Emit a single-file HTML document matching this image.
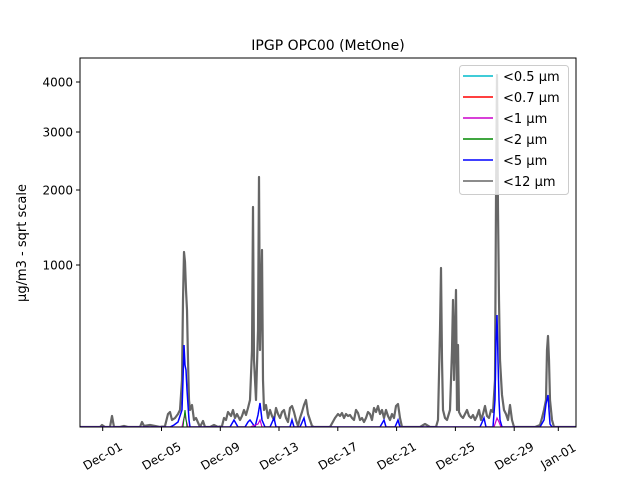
<!DOCTYPE html>
<html><head><meta charset="utf-8"><style>
body{margin:0;background:#fff;}
svg{display:block;font-family:"DejaVu Sans","Liberation Sans",sans-serif;}
</style></head><body>
<svg width="640" height="480" viewBox="0 0 640 480">
<rect width="640" height="480" fill="#fff"/>
<text x="328" y="50" font-size="14" text-anchor="middle">IPGP OPC00 (MetOne)</text>
<clipPath id="c"><rect x="80" y="58" width="496" height="369"/></clipPath>
<g clip-path="url(#c)">
<polyline fill="none" stroke="#666" stroke-width="2.2" stroke-linejoin="round" points="
80,427 100,427 102,425 105,427 110,427 112,416 114,427 120,427 124,426 128,427 140,427 142,422 144,426 150,425 155,426 160,427 165,426 168,414 170,412 172,420 175,418 178,414 180,410 182,380 183,300 184,252 185,262 186,290 187,310 188,360 189,400 190,410 192,405 194,420 196,418 200,427 203,421 205,427 210,427 214,425 218,427 222,426 224,418 226,420 228,412 231,416 233,410 235,418 237,414 240,420 242,416 244,410 246,415 248,408 250,400 252,350 253,207 254,360 256,400 258,330 259,177 260,350 261,300 262,250 263,380 264,410 266,405 268,418 270,410 272,416 274,420 276,408 278,414 280,418 282,412 284,410 286,418 288,422 290,408 292,406 294,412 296,420 298,426 300,418 302,412 304,405 306,400 308,414 310,420 312,426 314,427 320,427 330,427 335,418 338,414 340,416 342,413 344,418 346,414 348,416 350,415 352,418 354,420 356,410 358,413 360,420 362,418 364,422 366,418 368,412 370,414 372,420 374,408 376,412 378,406 380,414 382,410 384,418 386,410 388,416 390,420 392,414 394,418 396,406 398,404 400,418 402,427 410,427 420,427 425,424 430,427 436,427 438,420 440,330 441,268 442,360 443,410 445,418 447,420 450,410 452,350 453,300 454,380 456,290 457,410 458,345 459,412 461,416 463,418 465,414 467,410 469,416 471,418 473,415 475,420 477,416 479,410 481,420 483,414 485,406 487,416 489,418 491,410 493,412 495,380 496,200 497,75 498,210 499,300 500,360 502,395 504,410 506,414 508,420 510,405 512,420 514,427 520,427 530,427 535,427 540,425 542,418 544,410 546,400 547,350 548,336 549,360 550,400 552,420 554,427 576,427"/>
<polyline fill="none" stroke="#00f" stroke-width="1.5" points="
80,427 170,427 174,425 178,422 182,410 183,380 184,345 185,365 186,370 187,390 188,405 189,420 190,427 230,427 234,420 238,427 245,427 248,422 250,420 255,427 258,415 260,403 262,420 265,427 270,427 274,418 276,427 290,427 292,420 294,427 300,427 304,418 306,427 380,427 384,420 386,427 395,427 398,420 400,427 480,427 484,418 486,427 493,427 495,400 496,340 497,315 498,360 499,400 500,420 502,427 540,427 544,420 546,404 548,395 549,410 550,424 552,427 576,427"/>
<polyline fill="none" stroke="#c0c" stroke-width="1.2" points="
80,427 182,427 184,418 185,416 186,420 188,427 250,427 258,424 260,420 262,427 494,427 497,418 499,422 501,427 576,427"/>
<polyline fill="none" stroke="#080" stroke-width="1" points="80,427 183,427 185,410 187,427 576,427"/>
</g>
<rect x="80" y="58" width="496" height="369" fill="none" stroke="#000" stroke-width="1"/>
<g font-size="12" text-anchor="end">
<line x1="76" y1="82" x2="80" y2="82" stroke="#000"/><text x="73" y="86.5">4000</text>
<line x1="76" y1="132" x2="80" y2="132" stroke="#000"/><text x="73" y="136.5">3000</text>
<line x1="76" y1="190" x2="80" y2="190" stroke="#000"/><text x="73" y="194.5">2000</text>
<line x1="76" y1="265" x2="80" y2="265" stroke="#000"/><text x="73" y="269.5">1000</text>
</g>
<text transform="translate(26,243) rotate(-90)" font-size="13" text-anchor="middle">µg/m3 - sqrt scale</text>
<g font-size="12" text-anchor="middle">
<g transform="translate(102.7,427)"><line y2="4" stroke="#000"/><text transform="translate(0,29) rotate(-30)" dy="0.35em">Dec-01</text></g>
<g transform="translate(161.5,427)"><line y2="4" stroke="#000"/><text transform="translate(0,29) rotate(-30)" dy="0.35em">Dec-05</text></g>
<g transform="translate(220.3,427)"><line y2="4" stroke="#000"/><text transform="translate(0,29) rotate(-30)" dy="0.35em">Dec-09</text></g>
<g transform="translate(279,427)"><line y2="4" stroke="#000"/><text transform="translate(0,29) rotate(-30)" dy="0.35em">Dec-13</text></g>
<g transform="translate(337.8,427)"><line y2="4" stroke="#000"/><text transform="translate(0,29) rotate(-30)" dy="0.35em">Dec-17</text></g>
<g transform="translate(396.6,427)"><line y2="4" stroke="#000"/><text transform="translate(0,29) rotate(-30)" dy="0.35em">Dec-21</text></g>
<g transform="translate(455.4,427)"><line y2="4" stroke="#000"/><text transform="translate(0,29) rotate(-30)" dy="0.35em">Dec-25</text></g>
<g transform="translate(514.2,427)"><line y2="4" stroke="#000"/><text transform="translate(0,29) rotate(-30)" dy="0.35em">Dec-29</text></g>
<g transform="translate(558.3,427)"><line y2="4" stroke="#000"/><text transform="translate(0,29) rotate(-30)" dy="0.35em">Jan-01</text></g>
</g>
<rect x="459.5" y="65.5" width="109" height="129" rx="3" fill="#fff" fill-opacity="0.8" stroke="#ccc"/>
<g font-size="13" stroke-width="1.5">
<line x1="463" y1="76" x2="493" y2="76" stroke="#0bc"/><text x="503" y="81">&lt;0.5 µm</text>
<line x1="463" y1="97" x2="493" y2="97" stroke="#f00"/><text x="503" y="102">&lt;0.7 µm</text>
<line x1="463" y1="118" x2="493" y2="118" stroke="#c0c"/><text x="503" y="123">&lt;1 µm</text>
<line x1="463" y1="139" x2="493" y2="139" stroke="#080"/><text x="503" y="144">&lt;2 µm</text>
<line x1="463" y1="160" x2="493" y2="160" stroke="#00f"/><text x="503" y="165">&lt;5 µm</text>
<line x1="463" y1="181" x2="493" y2="181" stroke="#666"/><text x="503" y="186">&lt;12 µm</text>
</g>
</svg>
</body></html>
